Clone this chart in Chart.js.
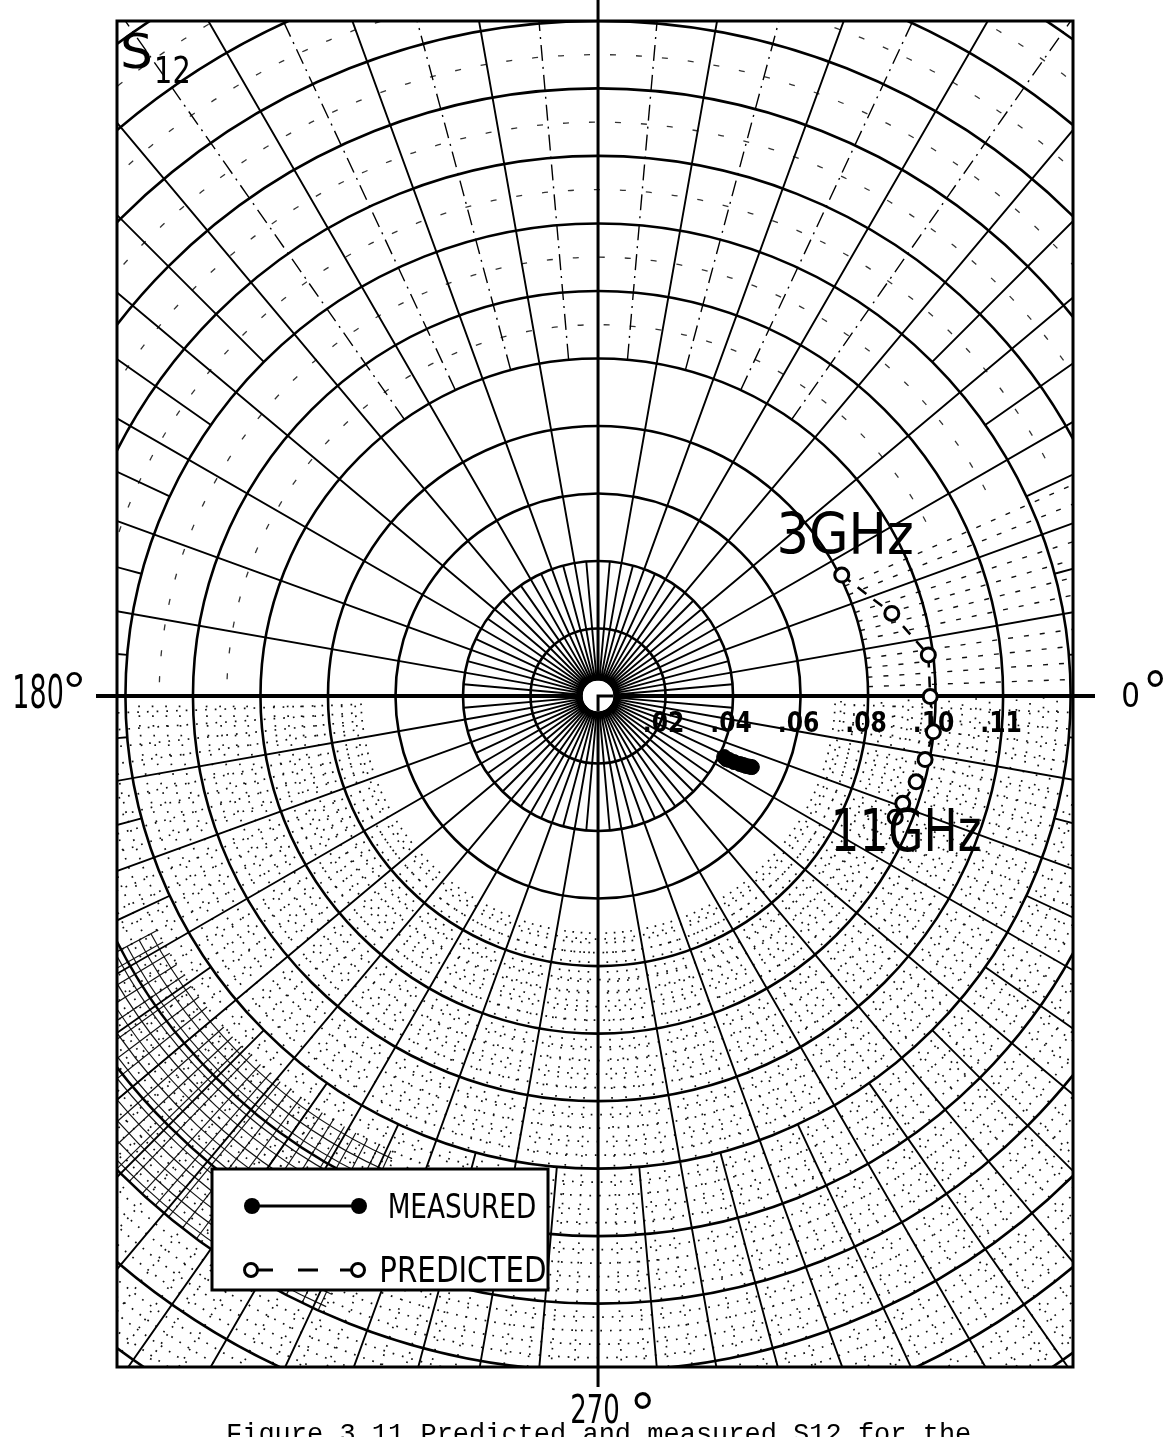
<!DOCTYPE html>
<html>
<head>
<meta charset="utf-8">
<script src="https://cdn.jsdelivr.net/npm/chart.js@4.4.1/dist/chart.umd.min.js"></script>
<style>
  html, body { margin: 0; padding: 0; background: #fff; }
  #wrap { width: 1174px; height: 1437px; }
</style>
</head>
<body>
<div id="wrap"><canvas id="c" width="1174" height="1437"></canvas></div>
<script>
// S12 polar plot, 3-11 GHz. Magnitudes linear, angles in degrees.
const freqsGHz = [3, 4, 5, 6, 7, 8, 9, 10, 11];
const predictedMag = [0.0806, 0.0904, 0.0986, 0.0984, 0.0999, 0.0987, 0.0976, 0.0957, 0.0951];
const predictedAng = [26.4, 15.7, 7.1, -0.1, -6.1, -11.0, -15.1, -19.4, -22.2];
const measuredMag = [0.0415, 0.0424, 0.0432, 0.0448, 0.0466, 0.0476, 0.0485, 0.0495, 0.0502];
const measuredAng = [-25.8, -26.2, -26.0, -25.9, -25.6, -25.4, -25.3, -25.0, -24.8];

// radial tick labels along the 0 deg axis (the last one is printed ".11" on the original)
const ringValues = [0.02, 0.04, 0.06, 0.08, 0.10, 0.12];
const ringLabels = ['.02', '.04', '.06', '.08', '.10', '.11'];
const angleLabels = ['0', '180', '270'];

const FONT = '"DejaVu Sans", sans-serif';
const DEG_FONT = '"Liberation Sans", sans-serif';

function toXY(mags, angs) {
  return mags.map((m, i) => ({
    x: m * Math.cos(angs[i] * Math.PI / 180),
    y: m * Math.sin(angs[i] * Math.PI / 180),
  }));
}

// stretch the ink of a string into the box (x, y, w, h)
function inkText(ctx, text, x, y, w, h, family) {
  ctx.save();
  ctx.font = `normal 100px ${family || FONT}`;
  ctx.textAlign = 'left';
  ctx.textBaseline = 'alphabetic';
  const m = ctx.measureText(text);
  const iw = m.actualBoundingBoxLeft + m.actualBoundingBoxRight;
  const ih = m.actualBoundingBoxAscent + m.actualBoundingBoxDescent;
  ctx.translate(x, y);
  ctx.scale(w / iw, h / ih);
  ctx.fillStyle = '#000';
  ctx.fillText(text, m.actualBoundingBoxLeft, m.actualBoundingBoxAscent);
  ctx.restore();
}

const polarGrid = {
  id: 'polarGrid',
  beforeDatasetsDraw(chart) {
    const { ctx, chartArea: a, scales: { x, y } } = chart;
    const cx = x.getPixelForValue(0), cy = y.getPixelForValue(0);
    const u = x.getPixelForValue(1) - cx;
    const rad = d => d * Math.PI / 180;
    const spoke = (deg, r0, r1) => {
      const c = Math.cos(rad(deg)), s = Math.sin(rad(deg));
      ctx.moveTo(cx + c * r0 * u, cy - s * r0 * u);
      ctx.lineTo(cx + c * r1 * u, cy - s * r1 * u);
    };
    const arc = (r, d0, d1) => {
      ctx.moveTo(cx + Math.cos(rad(d0)) * r * u, cy - Math.sin(rad(d0)) * r * u);
      ctx.arc(cx, cy, r * u, -rad(d0), -rad(d1), true);
    };
    const isMajor = r => Math.abs(r / 0.02 - Math.round(r / 0.02)) < 0.01;

    ctx.save();
    ctx.beginPath();
    ctx.rect(a.left, a.top, a.right - a.left, a.bottom - a.top);
    ctx.clip();

    // fine dotted subdivisions in the lower half
    ctx.lineWidth = 1.7;
    ctx.strokeStyle = '#111';
    ctx.setLineDash([1.7, 8]);
    ctx.beginPath();
    for (let r = 0.072; r < 0.27; r += 0.004) {
      if (isMajor(r)) continue;
      arc(r, 180, 360);
    }
    for (let d = 182; d < 360; d += 2) {
      if (d % 5 === 0) continue;
      spoke(d, 0.07, 0.35);
    }
    ctx.stroke();
    // short dashes just above the 0 deg axis
    ctx.lineWidth = 1.4;
    ctx.setLineDash([5, 11]);
    ctx.beginPath();
    for (let d = 2; d < 26; d += 2) {
      if (d % 5 === 0) continue;
      spoke(d, 0.08, 0.35);
    }
    ctx.stroke();
    // sparse dashes on the half rings, upper half
    ctx.strokeStyle = '#333';
    ctx.lineWidth = 1.3;
    ctx.setLineDash([6, 20]);
    ctx.beginPath();
    for (let r = 0.11; r < 0.27; r += 0.02) arc(r, 28, 180);
    ctx.stroke();

    // dense crosshatch patch lower-left
    ctx.setLineDash([]);
    ctx.lineWidth = 1.2;
    ctx.strokeStyle = '#111';
    ctx.beginPath();
    for (let r = 0.15; r < 0.2; r += 0.004) arc(r, 208, 246);
    for (let d = 208; d <= 246; d += 1.5) spoke(d, 0.148, 0.2);
    ctx.stroke();

    // main circles
    ctx.strokeStyle = '#000';
    ctx.lineWidth = 2.6;
    ctx.beginPath();
    for (let r = 0.02; r < 0.27; r += 0.02) {
      ctx.moveTo(cx + r * u, cy);
      ctx.arc(cx, cy, r * u, 0, Math.PI * 2);
    }
    ctx.stroke();

    // spokes
    ctx.lineWidth = 1.9;
    ctx.beginPath();
    for (let d = 0; d < 360; d += 5) spoke(d, 0.0045, 0.04);
    for (let d = 0; d < 360; d += 10) spoke(d, 0.04, 0.35);
    for (let d = 5; d < 360; d += 10) {
      if (d > 50 && d < 130) continue;
      spoke(d, 0.14, 0.35);
    }
    ctx.stroke();
    ctx.lineWidth = 1.4;
    ctx.setLineDash([16, 6, 2, 6]);
    ctx.beginPath();
    for (let d = 55; d < 130; d += 10) spoke(d, 0.1, 0.35);
    ctx.stroke();
    ctx.setLineDash([]);
    ctx.restore();

    // axes running past the frame
    ctx.save();
    ctx.strokeStyle = '#000';
    ctx.lineWidth = 4;
    ctx.beginPath();
    ctx.moveTo(96, cy);
    ctx.lineTo(1095, cy);
    ctx.stroke();
    ctx.lineWidth = 3;
    ctx.beginPath();
    ctx.moveTo(cx, 0);
    ctx.lineTo(cx, 1387);
    ctx.stroke();
    // white hub at the origin with the small L mark
    ctx.fillStyle = '#fff';
    ctx.beginPath();
    ctx.arc(cx, cy, 0.0045 * u, 0, Math.PI * 2);
    ctx.fill();
    ctx.lineWidth = 3;
    ctx.beginPath();
    ctx.moveTo(cx + 0.0045 * u, cy);
    ctx.lineTo(cx, cy);
    ctx.lineTo(cx, cy + 0.0045 * u);
    ctx.stroke();
    // frame
    ctx.lineWidth = 3;
    ctx.strokeRect(a.left, a.top, a.right - a.left, a.bottom - a.top);
    ctx.restore();

    // radial tick labels, centred on their rings
    ctx.save();
    ctx.font = `bold 28px ${FONT}`;
    ctx.textAlign = 'center';
    ctx.textBaseline = 'alphabetic';
    ctx.fillStyle = '#000';
    ringValues.forEach((v, i) => {
      const px = x.getPixelForValue(v);
      ctx.save();
      ctx.translate(px - 2, cy + 36);
      ctx.scale(0.84, 1);
      ctx.fillText(ringLabels[i], 0, 0);
      ctx.restore();
    });
    ctx.restore();
  },
};

const labelsPlugin = {
  id: 'labelsPlugin',
  afterDatasetsDraw(chart) {
    const { ctx } = chart;
    // S12 corner label
    inkText(ctx, 'S', 123, 32, 27, 36);
    inkText(ctx, '12', 157, 55, 31, 28);
    // angle labels
    inkText(ctx, angleLabels[1], 15, 673, 47, 35);
    inkText(ctx, '°', 66, 672, 16, 15, DEG_FONT);
    inkText(ctx, angleLabels[0], 1123, 682, 15, 25);
    inkText(ctx, '°', 1147, 670, 16, 17, DEG_FONT);
    inkText(ctx, angleLabels[2], 572, 1393, 46, 30);
    inkText(ctx, '°', 634, 1392, 17, 17, DEG_FONT);
    // frequency end labels
    inkText(ctx, freqsGHz[0] + 'GHz', 780, 512, 132, 43);
    inkText(ctx, freqsGHz[freqsGHz.length - 1] + 'GHz', 835, 808, 145, 44);

    // legend box
    ctx.save();
    ctx.fillStyle = '#fff';
    ctx.fillRect(212, 1169, 336, 121);
    ctx.strokeStyle = '#000';
    ctx.lineWidth = 3;
    ctx.strokeRect(212, 1169, 336, 121);
    const [meas, pred] = chart.data.datasets;
    // measured sample
    ctx.lineWidth = meas.borderWidth;
    ctx.beginPath();
    ctx.moveTo(252, 1206);
    ctx.lineTo(359, 1206);
    ctx.stroke();
    ctx.fillStyle = meas.pointBackgroundColor;
    [252, 359].forEach(px => {
      ctx.beginPath();
      ctx.arc(px, 1206, 8, 0, Math.PI * 2);
      ctx.fill();
    });
    // predicted sample
    ctx.lineWidth = pred.borderWidth + 0.5;
    ctx.beginPath();
    ctx.moveTo(258, 1270); ctx.lineTo(273, 1270);
    ctx.moveTo(298, 1270); ctx.lineTo(318, 1270);
    ctx.moveTo(340, 1270); ctx.lineTo(352, 1270);
    ctx.stroke();
    ctx.fillStyle = '#fff';
    ctx.lineWidth = pred.pointBorderWidth;
    [251, 358].forEach(px => {
      ctx.beginPath();
      ctx.arc(px, 1270, 6.5, 0, Math.PI * 2);
      ctx.fill();
      ctx.stroke();
    });
    ctx.restore();
    inkText(ctx, meas.label, 390, 1192, 145, 26);
    inkText(ctx, pred.label, 382, 1255, 163, 27);

    // caption, cut by the bottom edge
    ctx.save();
    ctx.font = '27px "Liberation Mono", monospace';
    ctx.fillStyle = '#000';
    ctx.textBaseline = 'alphabetic';
    ctx.fillText('Figure 3.11 Predicted and measured S12 for the', 226, 1442);
    ctx.restore();
  },
};

new Chart(document.getElementById('c'), {
  type: 'scatter',
  data: {
    datasets: [
      {
        label: 'MEASURED',
        data: toXY(measuredMag, measuredAng),
        showLine: true,
        borderColor: '#000',
        borderWidth: 3,
        pointRadius: 7.5,
        pointBackgroundColor: '#000',
        pointBorderColor: '#000',
        pointBorderWidth: 1,
      },
      {
        label: 'PREDICTED',
        data: toXY(predictedMag, predictedAng),
        showLine: true,
        borderColor: '#000',
        borderWidth: 2.5,
        borderDash: [11, 9],
        pointRadius: 7,
        pointBackgroundColor: '#fff',
        pointBorderColor: '#000',
        pointBorderWidth: 3,
      },
    ],
  },
  options: {
    responsive: false,
    animation: false,
    layout: { padding: { left: 117, top: 21, right: 101, bottom: 70 } },
    scales: {
      x: { type: 'linear', min: -0.1425, max: 0.1407, display: false },
      y: { type: 'linear', min: -0.1988, max: 0.2, display: false },
    },
    plugins: {
      legend: { display: false },
      tooltip: { enabled: false },
    },
  },
  plugins: [polarGrid, labelsPlugin],
});
</script>
</body>
</html>
